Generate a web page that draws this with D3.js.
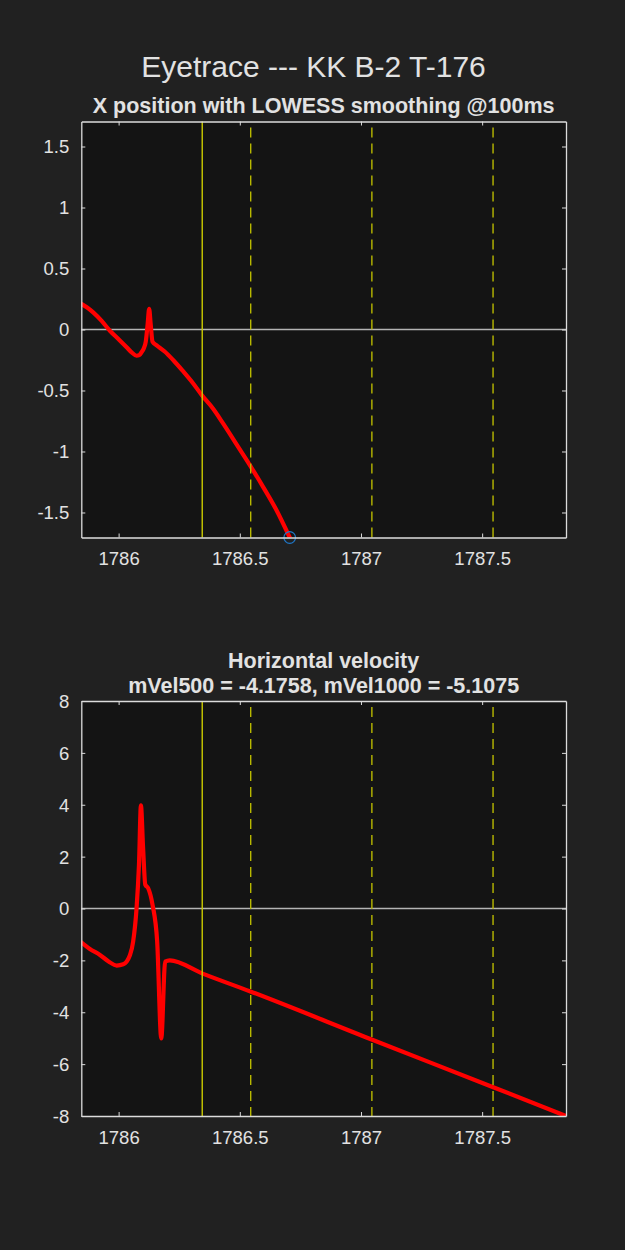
<!DOCTYPE html>
<html>
<head>
<meta charset="utf-8">
<script src="https://cdn.jsdelivr.net/npm/d3@7"></script>
<style>
  html, body { margin: 0; padding: 0; background: #212121; }
  svg { display: block; }
  text { font-family: "Liberation Sans", Arial, Helvetica, sans-serif; fill: #e2e2e2; }
</style>
</head>
<body>
<svg id="chart" width="625" height="1250"></svg>
<script>
// ---------- data ----------
const figTitle = "Eyetrace --- KK B-2 T-176";
const posTitle = ["X position with LOWESS smoothing @100ms"];
const velTitle = ["Horizontal velocity", "mVel500 = -4.1758, mVel1000 = -5.1075"];

const xDomain = [1785.846, 1787.846];
const xTicks = [1786, 1786.5, 1787, 1787.5];
const posYDomain = [-1.705, 1.705];
const posYTicks = [-1.5, -1, -0.5, 0, 0.5, 1, 1.5];
const velYDomain = [-8, 8];
const velYTicks = [-8, -6, -4, -2, 0, 2, 4, 6, 8];

const eventSolid = [1786.345];
const eventDashed = [1786.545, 1787.045, 1787.545];

const posT = [1785.846, 1785.870, 1785.895, 1785.930, 1785.964, 1786.000, 1786.033, 1786.055,
              1786.074, 1786.085, 1786.095, 1786.105, 1786.112, 1786.120, 1786.126, 1786.132,
              1786.140, 1786.157, 1786.190, 1786.225, 1786.265, 1786.307, 1786.344, 1786.390,
              1786.431, 1786.486, 1786.544, 1786.596, 1786.651, 1786.706];
const posX = [0.21, 0.18, 0.14, 0.07, -0.01, -0.08, -0.145, -0.19,
              -0.215, -0.21, -0.185, -0.15, -0.10, 0.05, 0.17, 0.05,
              -0.10, -0.13, -0.18, -0.25, -0.34, -0.44, -0.54, -0.65,
              -0.77, -0.94, -1.12, -1.29, -1.48, -1.705];

const velT = [1785.846, 1785.880, 1785.923, 1785.960, 1785.992, 1786.019, 1786.047, 1786.060,
              1786.074, 1786.084, 1786.092, 1786.101, 1786.110, 1786.122, 1786.140, 1786.159,
              1786.176, 1786.192, 1786.211, 1786.344, 1786.544, 1787.044, 1787.543, 1787.846];
const velV = [-1.30, -1.55, -1.79, -2.05, -2.20, -2.15, -1.79, -1.27,
              0.01, 1.69, 3.98, 2.33, 0.92, 0.78, 0.14, -1.27,
              -5.01, -2.05, -2.00, -2.50, -3.20, -5.05, -6.88, -8.00];

// ---------- drawing ----------
const svg = d3.select("#chart");
const W = 625;
const left = 81.3, right = 566;
const axisColor = "#dcdcdc";

svg.append("text")
  .attr("x", W / 2 + 1).attr("y", 77)
  .attr("text-anchor", "middle")
  .style("font-size", "30px")
  .text(figTitle);

function panel(cfg) {
  const { top, bottom, yDomain, yTicks, titles, titleY, tFmt, series, marker, id } = cfg;
  const x = d3.scaleLinear().domain(xDomain).range([left, right]);
  const y = d3.scaleLinear().domain(yDomain).range([bottom, top]);
  const g = svg.append("g");

  g.append("rect")
    .attr("x", left).attr("y", top)
    .attr("width", right - left).attr("height", bottom - top)
    .attr("fill", "#141414");

  g.append("clipPath").attr("id", id)
    .append("rect")
    .attr("x", left).attr("y", top)
    .attr("width", right - left).attr("height", bottom - top);

  // zero line
  g.append("line")
    .attr("x1", x(xDomain[0])).attr("x2", x(xDomain[1]))
    .attr("y1", y(0)).attr("y2", y(0))
    .attr("stroke", "#b4b4b4").attr("stroke-width", 1.6);

  // trace
  const data = series.t.map((t, i) => [t, series.v[i]]);
  g.append("path")
    .datum(data)
    .attr("clip-path", `url(#${id})`)
    .attr("fill", "none")
    .attr("stroke", "#ff0000")
    .attr("stroke-width", 4.2)
    .attr("stroke-linejoin", "round")
    .attr("stroke-linecap", "round")
    .attr("d", d3.line().x(d => x(d[0])).y(d => y(d[1])).curve(d3.curveMonotoneX));

  // event lines
  g.selectAll(".solid").data(eventSolid).enter().append("line")
    .attr("x1", d => x(d)).attr("x2", d => x(d))
    .attr("y1", top).attr("y2", bottom)
    .attr("stroke", "#cccc00").attr("stroke-width", 1.4);
  g.selectAll(".dashed").data(eventDashed).enter().append("line")
    .attr("x1", d => x(d)).attr("x2", d => x(d))
    .attr("y1", top).attr("y2", bottom)
    .attr("stroke", "#b8b800").attr("stroke-width", 1.4)
    .attr("stroke-dasharray", "10,6")
    .attr("stroke-dashoffset", -6);

  if (marker) {
    const last = data[data.length - 1];
    g.append("circle")
      .attr("cx", x(last[0])).attr("cy", y(last[1]))
      .attr("r", 5.8)
      .attr("fill", "none")
      .attr("stroke", "#1f77c8").attr("stroke-width", 1.2);
  }

  // axes (MATLAB-style box with inward ticks)
  const tickLen = 4;
  const ax = g.append("g").attr("class", "axes");
  const xb = ax.append("g").attr("transform", `translate(0,${bottom})`)
    .call(d3.axisBottom(x).tickValues(xTicks).tickSizeInner(-tickLen).tickSizeOuter(0).tickPadding(10).tickFormat(d3.format("")));
  ax.append("g").attr("transform", `translate(0,${top})`)
    .call(d3.axisTop(x).tickValues(xTicks).tickSizeInner(-tickLen).tickSizeOuter(0).tickFormat(""));
  const yl = ax.append("g").attr("transform", `translate(${left},0)`)
    .call(d3.axisLeft(y).tickValues(yTicks).tickSizeInner(-tickLen).tickSizeOuter(0).tickPadding(12).tickFormat(tFmt));
  ax.append("g").attr("transform", `translate(${right},0)`)
    .call(d3.axisRight(y).tickValues(yTicks).tickSizeInner(-tickLen).tickSizeOuter(0).tickFormat(""));
  ax.selectAll("path.domain").attr("stroke", axisColor).attr("stroke-width", 1.3);
  ax.selectAll(".tick line").attr("stroke", axisColor).attr("stroke-width", 1);
  ax.selectAll(".tick text")
    .attr("fill", "#e2e2e2")
    .style("font-family", '"Liberation Sans", Arial, Helvetica, sans-serif')
    .style("font-size", "18.5px");
  xb.selectAll(".tick text").attr("dy", "0.95em");
  yl.selectAll(".tick text").attr("dy", "0.35em");

  titles.forEach((t, i) => {
    svg.append("text")
      .attr("x", (left + right) / 2).attr("y", titleY[i])
      .attr("text-anchor", "middle")
      .style("font-size", "21.5px")
      .style("font-weight", "bold")
      .text(t);
  });
}

const fmt = d => (d === 0 ? "0" : d3.format("")(d)).replace("\u2212", "-");

panel({
  id: "clipPos", top: 121.5, bottom: 537.5,
  yDomain: posYDomain, yTicks: posYTicks,
  titles: posTitle, titleY: [113], tFmt: fmt,
  series: { t: posT, v: posX }, marker: true
});

panel({
  id: "clipVel", top: 701, bottom: 1116,
  yDomain: velYDomain, yTicks: velYTicks,
  titles: velTitle, titleY: [668, 692.5], tFmt: fmt,
  series: { t: velT, v: velV }, marker: false
});
</script>
</body>
</html>
